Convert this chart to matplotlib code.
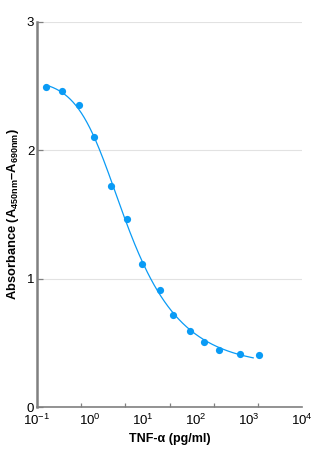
import numpy as np
import matplotlib
matplotlib.use("Agg")
import matplotlib.pyplot as plt
from matplotlib.ticker import FixedLocator, NullFormatter

plt.rcParams['font.family'] = ['Liberation Sans', 'DejaVu Sans']
plt.rcParams['mathtext.fontset'] = 'custom'
plt.rcParams['mathtext.rm'] = 'Liberation Sans'
plt.rcParams['mathtext.bf'] = 'Liberation Sans:bold'
plt.rcParams['mathtext.it'] = 'Liberation Sans:italic'

# standard curve readings (TNF-alpha, pg/ml vs absorbance)
conc = np.array([0.148, 0.296, 0.62, 1.19, 2.49, 5.0, 9.6, 21, 37, 77, 142, 270, 675, 1550])
absorb = np.array([2.49, 2.46, 2.35, 2.10, 1.72, 1.465, 1.115, 0.91, 0.717, 0.59, 0.507, 0.444, 0.413, 0.405])
xtick_vals = [0.1, 1, 10, 100, 1000, 10000]
xtick_labels = ['$10^{-1}$', '$10^{0}$', '$10^{1}$', '$10^{2}$', '$10^{3}$', '$10^{4}$']
ytick_vals = [0, 1, 2, 3]

blue = '#0a9bf5'


# 5PL fit: a, d solved linearly, grid search over c, b, g (vectorised)
def fit5pl(x, y):
    lc = np.linspace(-1.5, 2.5, 161)
    bb = np.linspace(0.3, 4, 75)
    gg = np.linspace(0.2, 4, 39)
    LC, B, G = np.meshgrid(lc, bb, gg, indexing='ij')
    LC, B, G = LC.ravel(), B.ravel(), G.ravel()
    u = 1.0 / (1.0 + (x[None, :] / 10**LC[:, None])**B[:, None])**G[:, None]
    # y = d + (a - d) u  -> y = d + k u
    n = len(x)
    su, suu = u.sum(1), (u * u).sum(1)
    sy, suy = y.sum(), (u * y).sum(1)
    det = n * suu - su**2
    k = (n * suy - su * sy) / det
    d = (sy - k * su) / n
    err = ((d[:, None] + k[:, None] * u - y)**2).sum(1)
    i = np.nanargmin(err)
    return d[i] + k[i], d[i], 10**LC[i], B[i], G[i]


a, d, c, b, g = fit5pl(conc, absorb)
xs = np.logspace(np.log10(conc[0]), np.log10(1200), 300)
ys = d + (a - d) / (1 + (xs / c)**b)**g

fig = plt.figure(figsize=(3.12, 4.66), dpi=100)
ax = fig.add_axes([0.1186, 0.1266, 0.8494, 0.8262])

ax.plot(xs, ys, color=blue, lw=0.9, zorder=3)
ax.plot(conc, absorb, 'o', color=blue, ms=5.2, mec='none', zorder=4)

ax.set_xscale('log')
ax.set_xlim(0.1, 10000)
ax.set_ylim(0, 3)

ax.xaxis.set_major_locator(FixedLocator(xtick_vals))
ax.set_xticklabels(xtick_labels)
ax.xaxis.set_minor_locator(FixedLocator(10**np.linspace(-1, 4, 7)))
ax.xaxis.set_minor_formatter(NullFormatter())
ax.tick_params(axis='x', which='major', length=0, pad=4, labelsize=9.5)
ax.tick_params(axis='x', which='minor', length=3, width=0.9, direction='in', color='#808080')

ax.set_yticks(ytick_vals)
ax.tick_params(axis='y', length=4, width=0.9, direction='in', color='#808080', pad=2, labelsize=9.5)
ax.grid(axis='y', color='#e2e2e2', lw=0.8)
ax.set_axisbelow(True)

for s in ['top', 'right']:
    ax.spines[s].set_visible(False)
ax.spines['left'].set_color('#808080')
ax.spines['left'].set_linewidth(1.8)
ax.spines['bottom'].set_color('#808080')
ax.spines['bottom'].set_linewidth(1.2)

ax.set_xlabel('TNF-\u03b1 (pg/ml)', fontsize=9, fontweight='bold', labelpad=4)
ax.set_ylabel(r'Absorbance (A$_{\mathbf{450nm}}$–A$_{\mathbf{690nm}}$)', fontsize=9.3,
              fontweight='bold', labelpad=4)

fig.savefig('out.png', dpi=100)
